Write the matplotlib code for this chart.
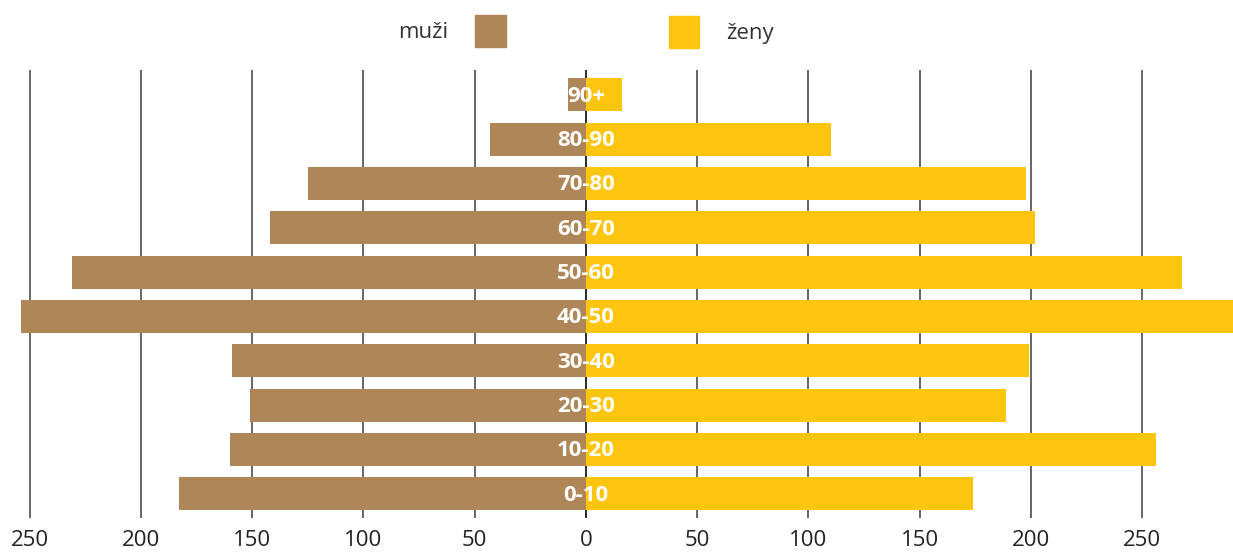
import matplotlib.pyplot as plt
from matplotlib.patches import Rectangle

plt.rcParams['font.family'] = ['Open Sans', 'DejaVu Sans']

# age groups, bottom to top
age_groups = ['0-10', '10-20', '20-30', '30-40', '40-50',
              '50-60', '60-70', '70-80', '80-90', '90+']
men = [183, 160, 151, 159, 254, 231, 142, 125, 43, 8]
women = [174, 256, 189, 199, 295, 268, 202, 198, 110, 16]
tick_vals = [-250, -200, -150, -100, -50, 0, 50, 100, 150, 200, 250]

col_men = '#AF8658'
col_women = '#FEC50F'

fig = plt.figure(figsize=(12.33, 5.52), dpi=100)
ax = fig.add_axes([0, (552 - 518) / 552, 1, (518 - 70) / 552])

ypos = list(range(len(age_groups)))
ax.barh(ypos, [-m for m in men], height=0.75, color=col_men, zorder=2)
ax.barh(ypos, women, height=0.75, color=col_women, zorder=2)

for y, lab in zip(ypos, age_groups):
    ax.text(0, y - 0.03, lab, ha='center', va='center', color='white',
            fontsize=16, fontweight='bold', zorder=3)

# vertical grid lines
for v in tick_vals:
    ax.axvline(v, color='#1a1a1a' if v == 0 else '#5a5a5a', lw=1.3, zorder=1)

ax.set_xlim(-263.3, 290.8)
ax.set_ylim(-0.545, 9.56)
ax.set_xticks(tick_vals)
ax.set_xticklabels([str(abs(v)) for v in tick_vals])
ax.tick_params(axis='x', length=0, pad=9, labelsize=16, colors='#222222')
ax.set_yticks([])
for s in ax.spines.values():
    s.set_visible(False)

# legend at the top
fig.text(423 / 1233, 1 - 33 / 552, 'muži', ha='center', va='center',
         fontsize=16, color='#333333')
fig.patches.append(Rectangle((475 / 1233, 1 - 47 / 552), 31 / 1233, 32 / 552,
                             transform=fig.transFigure, color=col_men))
fig.patches.append(Rectangle((669 / 1233, 1 - 48 / 552), 30 / 1233, 32 / 552,
                             transform=fig.transFigure, color=col_women))
fig.text(750 / 1233, 1 - 33 / 552, 'ženy', ha='center', va='center',
         fontsize=16, color='#333333')

fig.savefig('out.png', dpi=100)
